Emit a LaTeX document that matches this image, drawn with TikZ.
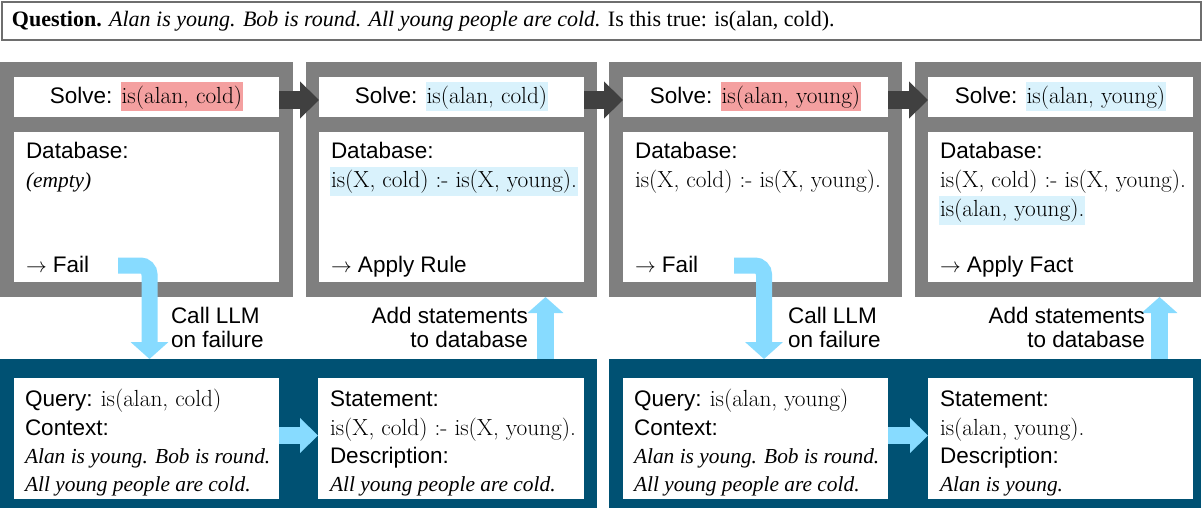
\documentclass[tikz,border=0pt]{standalone}
\usepackage{fontspec}
\newfontfamily\arialfam{Liberation Sans}
\newfontfamily\timesfam{Liberation Serif}
\usetikzlibrary{arrows.meta}
\definecolor{framegray}{RGB}{127,127,127}
\definecolor{darkarr}{RGB}{64,64,64}
\definecolor{navy}{RGB}{0,81,115}
\definecolor{lightarr}{RGB}{135,219,255}
\definecolor{hlred}{RGB}{244,160,160}
\definecolor{hlblue}{RGB}{217,242,252}
\definecolor{qgray}{RGB}{110,110,110}
\newcommand{\mysans}{\arialfam\fontsize{22.5}{29}\selectfont}
\newcommand{\myserif}{\rmfamily\upshape\fontsize{23.3}{29}\selectfont}
\newcommand{\myital}{\timesfam\itshape\fontsize{21.4}{29}\selectfont}
\newcommand{\hlbox}[2]{{\setlength{\fboxsep}{0pt}\colorbox{#1}{\kern1pt\rule[-8pt]{0pt}{29pt}#2\kern1pt}}}
\begin{document}
\begin{tikzpicture}[x=1pt,y=-1pt,
  frame/.style={fill=framegray,inner sep=0pt,outer sep=0pt,anchor=north west,minimum height=235pt},
  wbox/.style={fill=white,inner sep=0pt,outer sep=0pt,anchor=north west},
  solvebox/.style={wbox,minimum width=265pt,minimum height=40pt},
  dbbox/.style={wbox,minimum width=265pt,minimum height=150pt},
  bpanel/.style={fill=navy,inner sep=0pt,outer sep=0pt,anchor=north west,minimum height=149pt},
  llmbox/.style={wbox,minimum height=121pt},
  txt/.style={anchor=base west,inner sep=0pt,outer sep=0pt},
  rtxt/.style={anchor=base east,inner sep=0pt,outer sep=0pt},
  darr/.style={draw=darkarr,line width=18pt,-{Triangle[length=19pt,width=36pt]}},
  larr/.style={draw=lightarr,line width=17pt,-{Triangle[length=18pt,width=34pt]}},
  carr/.style={draw=lightarr,line width=16pt,rounded corners=9pt,-{Triangle[length=17pt,width=37pt]}},
  uarr/.style={draw=lightarr,line width=17pt,-{Triangle[length=16pt,width=35pt]}}
]
\useasboundingbox (0,0) rectangle (1203,508);

% question
\node[draw=qgray,line width=1.3pt,inner sep=0pt,outer sep=0pt,anchor=north west,minimum width=1199pt,minimum height=38pt] (qbox) at (2,2) {};
\node[txt] (qtext) at (12,27) {\timesfam\fontsize{22}{24}\selectfont\textbf{Question.} \textit{Alan is young. Bob is round. All young people are cold.} Is this true: is(alan, cold).};

% panel 1
\node[frame,minimum width=293pt] (p1) at (0,62) {};
\node[solvebox] (s1) at (14,77) {\mysans Solve: \myserif\hlbox{hlred}{is(alan, cold)}};
\node[dbbox] (d1) at (14,132) {};
\node[txt] (d1a) at (26,159) {\mysans Database:};
\node[txt] (d1b) at (26,188) {\myital (empty)};
\node[txt] (d1c) at (26,272) {\mysans $\rightarrow$ Fail};

% panel 2
\node[frame,minimum width=291pt] (p2) at (306,62) {};
\node[solvebox] (s2) at (319,77) {\mysans Solve: \myserif\hlbox{hlblue}{is(alan, cold)}};
\node[dbbox] (d2) at (319,132) {};
\node[txt] (d2a) at (331,159) {\mysans Database:};
\node[txt] (d2b) at (330,188) {\myserif\hlbox{hlblue}{is(X, cold) :- is(X, young).}};
\node[txt] (d2c) at (331,272) {\mysans $\rightarrow$ Apply Rule};

% panel 3
\node[frame,minimum width=293pt] (p3) at (609,62) {};
\node[solvebox] (s3) at (623,77) {\mysans Solve: \myserif\hlbox{hlred}{is(alan, young)}};
\node[dbbox] (d3) at (623,132) {};
\node[txt] (d3a) at (635,159) {\mysans Database:};
\node[txt] (d3b) at (635,188) {\myserif is(X, cold) :- is(X, young).};
\node[txt] (d3c) at (635,272) {\mysans $\rightarrow$ Fail};

% panel 4
\node[frame,minimum width=286pt] (p4) at (915,62) {};
\node[solvebox] (s4) at (928,77) {\mysans Solve: \myserif\hlbox{hlblue}{is(alan, young)}};
\node[dbbox] (d4) at (928,132) {};
\node[txt] (d4a) at (940,159) {\mysans Database:};
\node[txt] (d4b) at (940,188) {\myserif is(X, cold) :- is(X, young).};
\node[txt] (d4c) at (939,217) {\myserif\hlbox{hlblue}{is(alan, young).}};
\node[txt] (d4d) at (940,272) {\mysans $\rightarrow$ Apply Fact};

% bottom panels
\node[bpanel,minimum width=597pt] (b1) at (0,359) {};
\node[bpanel,minimum width=592pt] (b2) at (609,359) {};
\node[llmbox,minimum width=265pt] (q1) at (14,378) {};
\node[llmbox,minimum width=266pt] (st1) at (318,378) {};
\node[llmbox,minimum width=265pt] (q2) at (623,378) {};
\node[llmbox,minimum width=265pt] (st2) at (928,378) {};

\node[txt] (q1a) at (25,406) {\mysans Query: \myserif is(alan, cold)};
\node[txt] (q1b) at (25,435) {\mysans Context:};
\node[txt] (q1c) at (25,463) {\myital Alan is young. Bob is round.};
\node[txt] (q1d) at (25,491) {\myital All young people are cold.};
\node[txt] (st1a) at (330,406) {\mysans Statement:};
\node[txt] (st1b) at (330,435) {\myserif is(X, cold) :- is(X, young).};
\node[txt] (st1c) at (330,463) {\mysans Description:};
\node[txt] (st1d) at (330,491) {\myital All young people are cold.};

\node[txt] (q2a) at (634,406) {\mysans Query: \myserif is(alan, young)};
\node[txt] (q2b) at (634,435) {\mysans Context:};
\node[txt] (q2c) at (634,463) {\myital Alan is young. Bob is round.};
\node[txt] (q2d) at (634,491) {\myital All young people are cold.};
\node[txt] (st2a) at (940,406) {\mysans Statement:};
\node[txt] (st2b) at (940,435) {\myserif is(alan, young).};
\node[txt] (st2c) at (940,463) {\mysans Description:};
\node[txt] (st2d) at (940,491) {\myital Alan is young.};

% dark arrows
\draw[darr] ([yshift=-3pt]s1.east) -- ([yshift=-3pt]s2.west);
\draw[darr] ([yshift=-3pt]s2.east) -- ([yshift=-3pt]s3.west);
\draw[darr] ([yshift=-3pt]s3.east) -- ([yshift=-3pt]s4.west);

% light arrows between LLM boxes
\draw[larr] ([yshift=3pt]q1.east) -- ([yshift=3pt]st1.west);
\draw[larr] ([yshift=3pt]q2.east) -- ([yshift=3pt]st2.west);

% failure arrows
\coordinate (f1) at (118,265.5);
\coordinate (c1) at (149.5,359);
\draw[carr] (f1) -- (f1 -| c1) -- (c1);
\coordinate (f2) at (734,265.5);
\coordinate (c2) at (764,359);
\draw[carr] (f2) -- (f2 -| c2) -- (c2);

% add arrows
\coordinate (u1) at (545.5,359);
\draw[uarr] (u1) -- (u1 |- p2.south);
\coordinate (u2) at (1159.5,359);
\draw[uarr] (u2) -- (u2 |- p4.south);

% labels
\node[txt] (l1a) at (171,323) {\mysans Call LLM};
\node[txt] (l1b) at (171,347) {\mysans on failure};
\node[rtxt] (l2a) at (528,323) {\mysans Add statements};
\node[rtxt] (l2b) at (528,347) {\mysans to database};
\node[txt] (l3a) at (788,323) {\mysans Call LLM};
\node[txt] (l3b) at (788,347) {\mysans on failure};
\node[rtxt] (l4a) at (1145,323) {\mysans Add statements};
\node[rtxt] (l4b) at (1145,347) {\mysans to database};
\end{tikzpicture}
\end{document}
